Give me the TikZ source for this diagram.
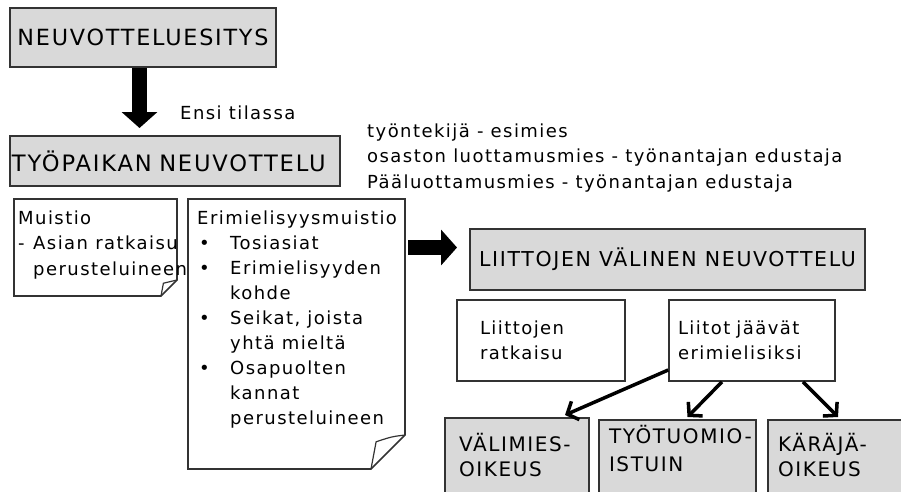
\documentclass[tikz,border=0pt]{standalone}
\usepackage{fontspec}
\setmainfont{DejaVu Sans}[LetterSpace=8]
\usetikzlibrary{arrows.meta}
\definecolor{boxgray}{HTML}{D9D9D9}
\definecolor{framegray}{HTML}{333333}
% paper note with folded corner: x1 y1 x2 y2 fold
\newcommand{\foldnote}[5]{%
  \draw[framegray, line width=1.6pt, fill=white] (#1,#2) -- (#3,#2) -- (#3,#4-#5) -- (#3-#5,#4) -- (#1,#4) -- cycle;
  \draw[framegray, line width=1.2pt] (#3,#4-#5) .. controls (#3-0.4*#5,#4-0.95*#5) .. (#3-0.85*#5,#4-0.8*#5) -- (#3-#5,#4);}
\begin{document}
\begin{tikzpicture}[x=1pt, y=-1pt,
  graybox/.style={draw=framegray, line width=2pt, fill=boxgray, inner sep=0pt},
  whitebox/.style={draw=framegray, line width=1.6pt, fill=white, align=left, font=\fontsize{18}{25}\selectfont},
  court/.style={graybox, anchor=north west, align=left, inner ysep=0pt, text depth=60pt, font=\fontsize{20}{25}\selectfont},
  txt/.style={inner sep=0pt, anchor=base west, align=left, font=\fontsize{18}{25.5}\selectfont},
  bigarrow/.style={line width=15pt, -{Triangle[length=16pt,width=35pt]}},
  thinarrow/.style={line width=3.5pt, -{Straight Barb[length=9pt,width=20pt]}}]
\clip (0,0) rectangle (901,491);

% top
\node (esitys) [graybox, minimum width=266pt, minimum height=59pt, font=\fontsize{22.3}{26}\selectfont] at (143,37.5) {NEUVOTTELUESITYS};
\node (tyopaikka) [graybox, minimum height=50pt, text width=326pt, inner xsep=2pt, align=left, font=\fontsize{22.6}{26}\selectfont] at (175,161) {TYÖPAIKAN NEUVOTTELU};
\draw[bigarrow] ([xshift=-3.5pt]esitys.south) -- ([xshift=-35.5pt,yshift=7pt]tyopaikka.north);
\node (ensi) [txt] at (180,119) {Ensi tilassa};
% base anchor = last line
\node (osapuolet) [txt] at (367,188) {työntekijä - esimies\\osaston luottamusmies - työnantajan edustaja\\Pääluottamusmies - työnantajan edustaja};

% muistiot
\foldnote{14}{199}{177}{296}{16}
\node (muistio) [txt] at (18,275) {Muistio\\\makebox[15pt][l]{-}Asian ratkaisu\\\hspace*{15pt}perusteluineen};
\foldnote{188}{199}{405}{469}{34}
\node (erimuistio) [txt, font=\fontsize{18}{25}\selectfont] at (197,424) {Erimielisyysmuistio\\
  \makebox[33pt][l]{\hspace{2pt}\textbullet}Tosiasiat\\
  \makebox[33pt][l]{\hspace{2pt}\textbullet}Erimielisyyden\\
  \hspace*{33pt}kohde\\
  \makebox[33pt][l]{\hspace{2pt}\textbullet}Seikat, joista\\
  \hspace*{33pt}yhtä mieltä\\
  \makebox[33pt][l]{\hspace{2pt}\textbullet}Osapuolten\\
  \hspace*{33pt}kannat\\
  \hspace*{33pt}perusteluineen};

% liitot
\coordinate (noteedge) at (408,247.5);
\node (liitot) [graybox, minimum width=395pt, minimum height=61pt, font=\fontsize{20.5}{24}\selectfont] at (667.5,259.5) {LIITTOJEN VÄLINEN NEUVOTTELU};
\draw[bigarrow] (noteedge) -- ++(49,0);
\node (ratkaisu) [whitebox, minimum height=81pt, text width=122pt, inner xsep=23pt] at (541,340.5) {Liittojen\\ratkaisu};
\node (erimieli) [whitebox, minimum height=81pt, text width=148pt, inner xsep=9pt] at (752,340.5) {Liitot jäävät\\erimielisiksi};

% oikeudet
\node (valimies) [court, text width=116pt, inner xsep=14pt, text height=33pt] at (444,417) {\mbox{VÄLIMIES-}\\OIKEUS};
\node (tyotuomio) [court, text width=137pt, inner xsep=10pt, text height=23pt, font=\fontsize{20}{28}\selectfont] at (598,419) {\mbox{TYÖTUOMIO-}\\ISTUIN};
\node (karaja) [court, text width=140pt, inner xsep=10pt, text height=31pt] at (767,419) {\mbox{KÄRÄJÄ-}\\OIKEUS};
\draw[thinarrow] ([yshift=-29.5pt]erimieli.west) -- ([xshift=-25pt,yshift=2pt]valimies.north east);
\draw[thinarrow] ([xshift=-30pt]erimieli.south) -- ([xshift=10pt,yshift=2pt]tyotuomio.north);
\draw[thinarrow] ([xshift=51pt]erimieli.south) -- ([xshift=71pt,yshift=2pt]karaja.north west);
\end{tikzpicture}
\end{document}
